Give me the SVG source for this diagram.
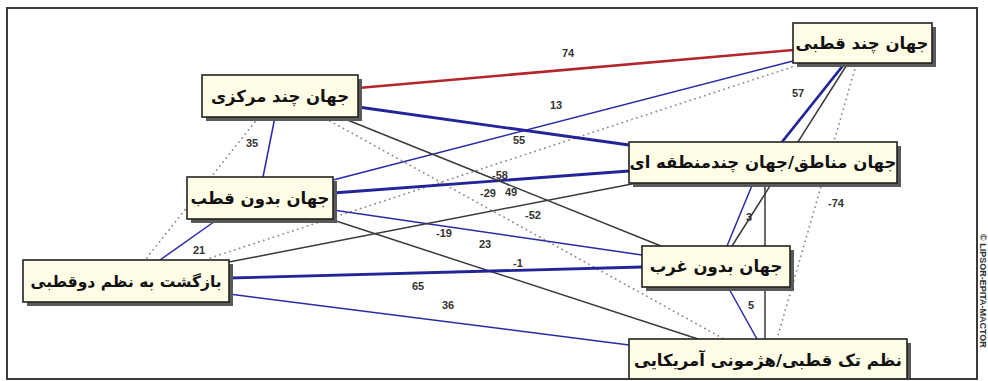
<svg xmlns="http://www.w3.org/2000/svg" width="988" height="381" viewBox="0 0 988 381">
<defs>
<style>
.bg{fill:#ffffff}
.frame{fill:none;stroke:#3a3a3a;stroke-width:2}
.red{stroke:#b3262b;stroke-width:2.6;fill:none}
.bt{stroke:#23239a;stroke-width:2.8;fill:none}
.bn{stroke:#2a2aa8;stroke-width:1.5;fill:none}
.bk{stroke:#3a3a3a;stroke-width:1.5;fill:none}
.dot{stroke:#8a8a8a;stroke-width:1.8;fill:none;stroke-dasharray:0.1 5;stroke-linecap:round}
.lbl{font-family:"Liberation Sans",Arial,sans-serif;font-size:11px;font-weight:bold;fill:#333;text-anchor:middle}
.shadow{fill:#5a5a5a}
.box{fill:#fffde6;stroke:#222;stroke-width:1.6}
.nt{font-family:"DejaVu Sans",sans-serif;font-size:16.5px;font-weight:bold;fill:#111;text-anchor:middle}
.copy{font-family:"Liberation Sans",Arial,sans-serif;font-size:9px;font-weight:bold;fill:#333}
</style>
</defs>
<rect class="bg" x="0" y="0" width="988" height="381"/>
<g id="connectors">
<line class="dot" x1="792" y1="67" x2="210" y2="258"/>
<line class="dot" x1="330" y1="121" x2="724" y2="339"/>
<line class="dot" x1="258" y1="118" x2="145" y2="260"/>
<line class="dot" x1="856" y1="65" x2="777" y2="339"/>
<line class="red" x1="358" y1="88" x2="793" y2="50"/>
<line class="bt" x1="358" y1="107" x2="629" y2="145"/>
<line class="bn" x1="333" y1="180" x2="793" y2="61"/>
<line class="bt" x1="333" y1="193" x2="629" y2="171"/>
<line class="bk" x1="340" y1="117" x2="661" y2="246"/>
<line class="bn" x1="275" y1="117" x2="263" y2="177"/>
<line class="bn" x1="333" y1="210" x2="642" y2="255"/>
<line class="bk" x1="333" y1="220" x2="698" y2="339"/>
<line class="bk" x1="229" y1="262" x2="637" y2="183"/>
<line class="bt" x1="229" y1="278" x2="642" y2="267"/>
<line class="bn" x1="229" y1="294" x2="629" y2="345"/>
<line class="bn" x1="218" y1="219" x2="160" y2="260"/>
<line class="bt" x1="845" y1="63" x2="782" y2="142"/>
<line class="bn" x1="753" y1="183" x2="727" y2="246"/>
<line class="bk" x1="848" y1="63" x2="732" y2="246"/>
<line class="bk" x1="765" y1="183" x2="765" y2="339"/>
<line class="bn" x1="728" y1="287" x2="757" y2="339"/>
<text class="lbl" x="568" y="57">74</text>
<text class="lbl" x="556" y="109">13</text>
<text class="lbl" x="519" y="144">55</text>
<text class="lbl" x="798" y="97">57</text>
<text class="lbl" x="252" y="147">35</text>
<text class="lbl" x="500" y="179">-58</text>
<text class="lbl" x="488" y="197">-29</text>
<text class="lbl" x="511" y="196">49</text>
<text class="lbl" x="533" y="219">-52</text>
<text class="lbl" x="444" y="237">-19</text>
<text class="lbl" x="485" y="248">23</text>
<text class="lbl" x="199" y="254">21</text>
<text class="lbl" x="518" y="267">-1</text>
<text class="lbl" x="418" y="290">65</text>
<text class="lbl" x="448" y="309">36</text>
<text class="lbl" x="749" y="221">3</text>
<text class="lbl" x="836" y="207">-74</text>
<text class="lbl" x="751" y="309">5</text>
</g>
<g id="n-chand-markazi">
<rect class="shadow" x="206" y="79" width="156" height="42"/>
<rect class="box" x="202" y="75" width="156" height="42"/>
<text class="nt" x="280" y="102" direction="rtl">جهان چند مرکزی</text>
</g>
<g id="n-bedun-qotb">
<rect class="shadow" x="191" y="181" width="146" height="42"/>
<rect class="box" x="187" y="177" width="146" height="42"/>
<text class="nt" x="260" y="204" direction="rtl">جهان بدون قطب</text>
</g>
<g id="n-bazgasht">
<rect class="shadow" x="27" y="264" width="206" height="42"/>
<rect class="box" x="23" y="260" width="206" height="42"/>
<text class="nt" x="126" y="287" direction="rtl" style="font-size:15.5px">بازگشت به نظم دوقطبی</text>
</g>
<g id="n-chand-qotbi">
<rect class="shadow" x="797" y="27" width="139" height="40"/>
<rect class="box" x="793" y="23" width="139" height="40"/>
<text class="nt" x="862" y="49" direction="rtl">جهان چند قطبی</text>
</g>
<g id="n-manateq">
<rect class="shadow" x="633" y="146" width="268" height="41"/>
<rect class="box" x="629" y="142" width="268" height="41"/>
<text class="nt" x="763" y="168" direction="rtl">جهان مناطق/جهان چندمنطقه ای</text>
</g>
<g id="n-bedun-gharb">
<rect class="shadow" x="646" y="250" width="148" height="41"/>
<rect class="box" x="642" y="246" width="148" height="41"/>
<text class="nt" x="716" y="272" direction="rtl">جهان بدون غرب</text>
</g>
<g id="n-tak-qotbi">
<rect class="shadow" x="633" y="343" width="278" height="44"/>
<rect class="box" x="629" y="339" width="278" height="48"/>
<text class="nt" x="768" y="366" direction="rtl">نظم تک قطبی/هژمونی آمریکایی</text>
</g>
<rect class="frame" x="7" y="8" width="970" height="371"/>
<rect x="0" y="380" width="988" height="1" fill="#fff"/>
<text class="copy" transform="translate(980,234) rotate(90)">© LIPSOR-EPITA-MACTOR</text>
</svg>
